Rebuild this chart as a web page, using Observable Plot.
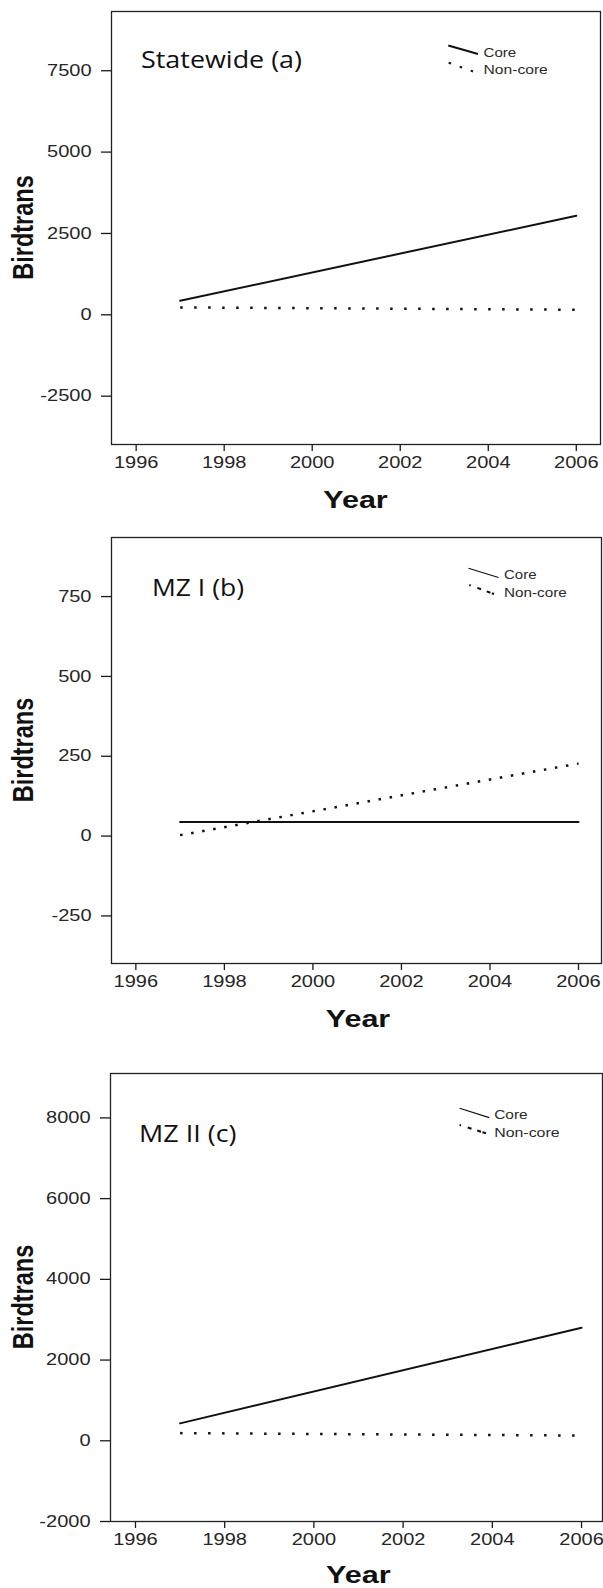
<!DOCTYPE html>
<html>
<head>
<meta charset="utf-8">
<script src="https://cdn.jsdelivr.net/npm/d3@7"></script>
<script src="https://cdn.jsdelivr.net/npm/@observablehq/plot@0.6"></script>
<style>
  html, body { margin: 0; padding: 0; background: #fff; }
  #chart { width: 603px; }
  #chart svg { display: block; }
</style>
</head>
<body>
<div id="chart"></div>
<script>
// ---- data ----
const years = [1997, 2006];
const stateCore = [430, 3043];
const stateNonCore = [228, 154];
const mz1Core = [44, 44];
const mz1NonCore = [3, 227];
const mz2Core = [431, 2802];
const mz2NonCore = [190, 129];

const xTicks = [1996, 1998, 2000, 2002, 2004, 2006];
const yTicksA = [-2500, 0, 2500, 5000, 7500];
const yTicksB = [-250, 0, 250, 500, 750];
const yTicksC = [-2000, 0, 2000, 4000, 6000, 8000];

const panelTitles = ["Statewide (a)", "MZ I (b)", "MZ II (c)"];
const seriesNames = ["Core", "Non-core"];
const xLabel = "Year";
const yLabel = "Birdtrans";

// ---- layout per panel ----
const panels = [
  {
    title: panelTitles[0], core: stateCore, non: stateNonCore, yTicks: yTicksA,
    height: 520, mt: 11, mb: 76, ml: 111, mr: 3,
    xDomain: [1995.44, 2006.55], yDomain: [-3985, 9320], dash: "2.5,11.5",
    titlePos: [141, 67.5, 161],
    legend: {core: [448.3, 45.5, 478, 54], coreW: 2, non: [448.7, 62.7, 473.5, 71.7], nonDash: "2.5,9.2",
             tx: 483.5, ty: [56.5, 74], tw: [32.7, 64.3]},
    yearPos: [355.5, 508]
  },
  {
    title: panelTitles[1], core: mz1Core, non: mz1NonCore, yTicks: yTicksB,
    height: 525, mt: 17, mb: 82, ml: 111, mr: 2,
    xDomain: [1995.45, 2006.52], yDomain: [-399, 935], dash: "2.5,8.7",
    titlePos: [152, 76, 92],
    legend: {core: [468.5, 48.3, 498.5, 57.5], coreW: 1.2, non: [469.3, 65, 494, 74], nonDash: "1.5,7,4,6,4",
             tx: 504, ty: [58.5, 76.5], tw: [32.5, 62.7]},
    yearPos: [358, 507]
  },
  {
    title: panelTitles[2], core: mz2Core, non: mz2NonCore, yTicks: yTicksC,
    height: 543, mt: 28, mb: 67, ml: 110, mr: 1,
    xDomain: [1995.44, 2006.47], yDomain: [-2000, 9100], dash: "2.5,11.5",
    titlePos: [139, 97, 97.5],
    legend: {core: [459.6, 63.2, 489.2, 72.6], coreW: 1.2, non: [459.6, 80, 486, 88.3], nonDash: "1.5,7,4,6,4",
             tx: 494.2, ty: [74, 92.2], tw: [33.5, 65.4]},
    yearPos: [358.3, 538]
  }
];

const ink = "#1a1a1a";
const container = document.getElementById("chart");

panels.forEach(p => {
  const coreData = years.map((yr, i) => ({year: yr, value: p.core[i], series: seriesNames[0]}));
  const nonData = years.map((yr, i) => ({year: yr, value: p.non[i], series: seriesNames[1]}));

  const svg = Plot.plot({
    width: 603,
    height: p.height,
    marginTop: p.mt, marginBottom: p.mb, marginLeft: p.ml, marginRight: p.mr,
    style: {
      background: "#fff",
      color: ink,
      fontFamily: "'Liberation Sans', Arial, Helvetica, sans-serif",
      fontSize: "16px"
    },
    x: {domain: p.xDomain},
    y: {domain: p.yDomain},
    marks: [
      Plot.axisY({ticks: p.yTicks, tickSize: 10, tickPadding: 10, label: null,
                  tickFormat: d => String(d), stroke: ink, strokeWidth: 1.3, fill: "#262626"}),
      Plot.axisX({ticks: xTicks, tickSize: 7, tickPadding: 5, label: null,
                  tickFormat: d => String(d), stroke: ink, strokeWidth: 1.3, fill: "#262626"}),
      Plot.line(coreData, {x: "year", y: "value", stroke: "#111", strokeWidth: 2}),
      Plot.line(nonData, {x: "year", y: "value", stroke: "#111", strokeWidth: 2.5,
                          strokeDasharray: p.dash, strokeLinecap: "butt"}),
      Plot.frame({stroke: "#222", strokeWidth: 1.3})
    ]
  });
  container.appendChild(svg);

  // widen tick labels like the (horizontally stretched) original
  svg.querySelectorAll("text").forEach(t => {
    const w = t.getComputedTextLength();
    if (w > 0) {
      t.setAttribute("textLength", (w * 1.25).toFixed(2));
      t.setAttribute("lengthAdjust", "spacingAndGlyphs");
    }
  });

  const s = d3.select(svg);
  const frameMidY = (p.mt + (p.height - p.mb)) / 2;

  // panel title
  s.append("text")
    .attr("x", p.titlePos[0]).attr("y", p.titlePos[1])
    .attr("text-anchor", "start")
    .attr("textLength", p.titlePos[2]).attr("lengthAdjust", "spacingAndGlyphs")
    .attr("font-family", "'Open Sans', 'Noto Sans', sans-serif")
    .attr("font-size", 24).attr("fill", "#111")
    .text(p.title);

  // legend
  const L = p.legend;
  s.append("line")
    .attr("x1", L.core[0]).attr("y1", L.core[1]).attr("x2", L.core[2]).attr("y2", L.core[3])
    .attr("stroke", "#111").attr("stroke-width", L.coreW);
  s.append("line")
    .attr("x1", L.non[0]).attr("y1", L.non[1]).attr("x2", L.non[2]).attr("y2", L.non[3])
    .attr("stroke", "#111").attr("stroke-width", 2).attr("stroke-dasharray", L.nonDash);
  seriesNames.forEach((name, i) => {
    s.append("text")
      .attr("x", L.tx).attr("y", L.ty[i])
      .attr("text-anchor", "start")
      .attr("textLength", L.tw[i]).attr("lengthAdjust", "spacingAndGlyphs")
      .attr("font-family", "'Liberation Sans', Arial, sans-serif")
      .attr("font-size", 13.5).attr("fill", "#2a2a2a")
      .text(name);
  });

  // y-axis label (rotated, stretched across like the original)
  s.append("g")
    .attr("transform", `translate(33.3, ${frameMidY}) scale(1.27, 1) rotate(-90)`)
    .append("text")
    .attr("text-anchor", "middle")
    .attr("font-family", "'Liberation Sans', Arial, sans-serif")
    .attr("font-weight", "bold").attr("font-size", 23.5).attr("fill", "#111")
    .text(yLabel);

  // x-axis label
  s.append("text")
    .attr("x", p.yearPos[0] - 32.25).attr("y", p.yearPos[1])
    .attr("text-anchor", "start")
    .attr("textLength", 64.5).attr("lengthAdjust", "spacingAndGlyphs")
    .attr("font-family", "'Liberation Sans', Arial, sans-serif")
    .attr("font-weight", "bold").attr("font-size", 23).attr("fill", "#111")
    .text(xLabel);
});
</script>
</body>
</html>
